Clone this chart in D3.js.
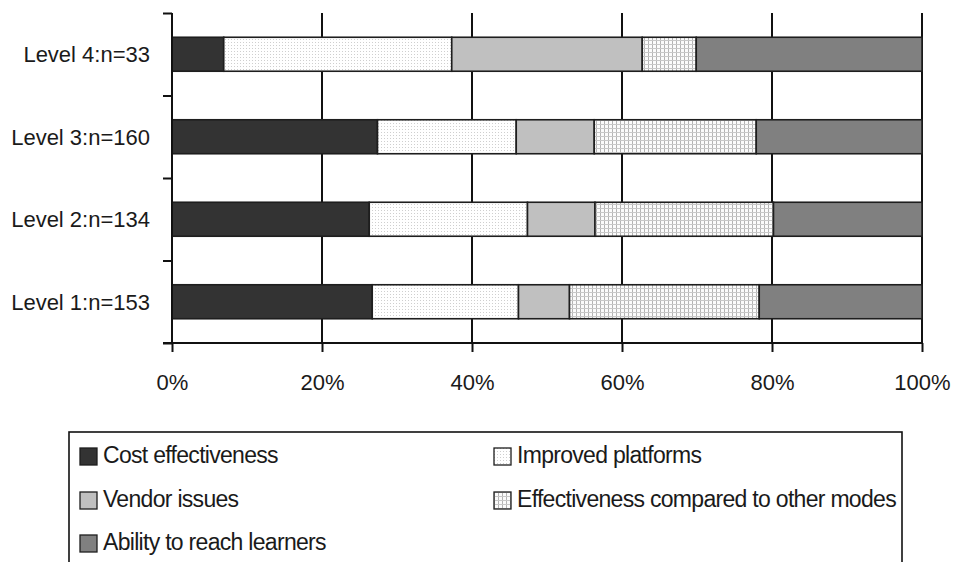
<!DOCTYPE html>
<html lang="en">
  <head>
    <meta charset="UTF-8">
    <title>Stacked bar chart by level</title>
    <script src="https://d3js.org/d3.v7.min.js"></script>
    <style>
      body { margin: 0; background: #fff; }
      text { font-family: "Liberation Sans", Arial, sans-serif; fill: #1a1a1a; }
    </style>
  </head>
  <body>
    <script>
      // categories top to bottom
      const levels = ["Level 4:n=33", "Level 3:n=160", "Level 2:n=134", "Level 1:n=153"];
      const seriesNames = ["Cost effectiveness", "Improved platforms", "Vendor issues",
                           "Effectiveness compared to other modes", "Ability to reach learners"];
      // percentages, same order as levels
      const costEffectiveness = [6.9, 27.4, 26.3, 26.7];
      const improvedPlatforms = [30.4, 18.5, 21.1, 19.5];
      const vendorIssues      = [25.4, 10.4, 9.0, 6.8];
      const effectivenessModes = [7.2, 21.6, 23.8, 25.3];
      const abilityToReach    = [30.1, 22.1, 19.8, 21.7];
      const xTicks = [0, 20, 40, 60, 80, 100];

      const w = 953, h = 562;
      const plotL = 172, plotR = 922, plotT = 13, plotB = 343;

      const table = levels.map((lv, i) => ({
        level: lv,
        s0: costEffectiveness[i],
        s1: improvedPlatforms[i],
        s2: vendorIssues[i],
        s3: effectivenessModes[i],
        s4: abilityToReach[i]
      }));
      const keys = ["s0", "s1", "s2", "s3", "s4"];
      const stacked = d3.stack().keys(keys)(table);

      const svg = d3.select("body").append("svg")
          .attr("width", w)
          .attr("height", h);

      const defs = svg.append("defs");
      const dots = defs.append("pattern")
          .attr("id", "dots").attr("patternUnits", "userSpaceOnUse")
          .attr("width", 3).attr("height", 3);
      dots.append("rect").attr("width", 3).attr("height", 3).attr("fill", "#fff");
      dots.append("rect").attr("width", 1).attr("height", 1).attr("fill", "#cfcfcf");

      const grid = defs.append("pattern")
          .attr("id", "grid").attr("patternUnits", "userSpaceOnUse")
          .attr("width", 4).attr("height", 4);
      grid.append("rect").attr("width", 4).attr("height", 4).attr("fill", "#fbfbfb");
      grid.append("rect").attr("width", 1).attr("height", 4).attr("fill", "#b4b4b4");
      grid.append("rect").attr("width", 4).attr("height", 1).attr("fill", "#c8c8c8");

      const fills = ["#333333", "url(#dots)", "#c0c0c0", "url(#grid)", "#808080"];

      const xScale = d3.scaleLinear().domain([0, 100]).range([plotL, plotR]);
      const yScale = d3.scaleBand().domain(levels).range([plotT, plotB])
          .paddingInner(0.588).paddingOuter(0.294);
      const yEdges = d3.scaleLinear().domain([0, levels.length]).range([plotT, plotB]);

      // vertical grid lines
      svg.append("g")
        .selectAll("line")
        .data(xTicks.slice(1))
        .enter()
        .append("line")
        .attr("x1", d => xScale(d)).attr("x2", d => xScale(d))
        .attr("y1", plotT).attr("y2", plotB)
        .attr("stroke", "#111").attr("stroke-width", 2);

      // bars
      svg.append("g")
        .selectAll("g")
        .data(stacked)
        .enter()
        .append("g")
        .attr("fill", (d, i) => fills[i])
        .selectAll("rect")
        .data(d => d)
        .enter()
        .append("rect")
        .attr("x", d => xScale(d[0]))
        .attr("y", d => yScale(d.data.level))
        .attr("width", d => xScale(d[1]) - xScale(d[0]))
        .attr("height", yScale.bandwidth())
        .attr("stroke", "#1e1e1e")
        .attr("stroke-width", 1.6);

      // x axis
      const xAxis = d3.axisBottom(xScale)
          .tickValues(xTicks)
          .tickSize(9)
          .tickPadding(22)
          .tickFormat(d => d + "%");
      const gx = svg.append("g")
          .attr("transform", `translate(0,${plotB})`)
          .call(xAxis);
      gx.select(".domain").attr("stroke", "#111").attr("stroke-width", 2)
        .attr("d", `M${plotL - 9},0H${plotR}`);
      gx.selectAll(".tick line").attr("stroke", "#111").attr("stroke-width", 2);
      gx.selectAll("text").style("font-size", "22px").attr("fill", "#1a1a1a");

      // y axis: ticks at band edges, labels at band centers
      const yAxis = d3.axisLeft(yEdges)
          .tickValues(d3.range(levels.length + 1))
          .tickSize(9)
          .tickFormat("");
      const gy = svg.append("g")
          .attr("transform", `translate(${plotL},0)`)
          .call(yAxis);
      gy.select(".domain").attr("stroke", "#111").attr("stroke-width", 2)
        .attr("d", `M0,${plotT}V${plotB}`);
      gy.selectAll(".tick line").attr("stroke", "#111").attr("stroke-width", 2);

      svg.append("g")
        .selectAll("text")
        .data(levels)
        .enter()
        .append("text")
        .attr("x", 150)
        .attr("y", d => yScale(d) + yScale.bandwidth() / 2)
        .attr("dy", "0.36em")
        .attr("text-anchor", "end")
        .style("font-size", "22px")
        .text(d => d);

      // legend
      svg.append("rect")
        .attr("x", 69).attr("y", 432)
        .attr("width", 833).attr("height", 150)
        .attr("fill", "none")
        .attr("stroke", "#111").attr("stroke-width", 1.6);

      const legendPos = [[80, 448], [494, 448], [80, 492], [494, 492], [80, 535]];
      const legend = svg.append("g")
        .selectAll("g")
        .data(seriesNames)
        .enter()
        .append("g")
        .attr("transform", (d, i) => `translate(${legendPos[i][0]},${legendPos[i][1]})`);
      legend.append("rect")
        .attr("width", 17).attr("height", 17)
        .attr("fill", (d, i) => fills[i])
        .attr("stroke", "#1e1e1e").attr("stroke-width", 1.3);
      legend.append("text")
        .attr("x", 23).attr("y", 15)
        .style("font-size", "23px")
        .style("letter-spacing", "-0.7px")
        .text(d => d);
    </script>
  </body>
</html>
